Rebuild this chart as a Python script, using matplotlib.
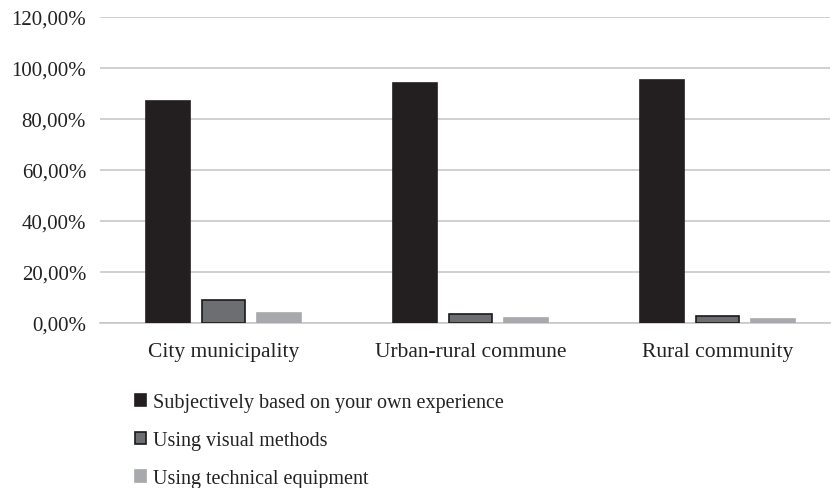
import numpy as np
import matplotlib
matplotlib.use('Agg')
import matplotlib.pyplot as plt
from matplotlib.ticker import FuncFormatter

categories = ['City municipality', 'Urban-rural commune', 'Rural community']
series = ['Subjectively based on your own experience',
          'Using visual methods',
          'Using technical equipment']
subjective = [87.0, 94.0, 95.3]
visual = [9.0, 3.5, 2.7]
technical = [4.0, 2.0, 1.6]

plt.rcParams['font.family'] = ['Liberation Serif', 'DejaVu Serif']

fig = plt.figure(figsize=(8.31, 4.89), dpi=100)
ax = fig.add_axes([100/831, 1-324/489, 730/831, 306/489])

x = np.arange(len(categories))
w = 0.178
step = 0.223
colors = ['#231f20', '#6d6e71', '#a7a9ac']
edges = ['#231f20', '#1a1a1a', '#a7a9ac']
handles = []
for i, (vals, c, e) in enumerate(zip([subjective, visual, technical], colors, edges)):
    b = ax.bar(x + (i-1)*step, vals, w, color=c, edgecolor=e, linewidth=1.2, zorder=3, label=series[i])
    handles.append(b)

ax.set_ylim(0, 120)
ax.set_xlim(-0.5, -0.5 + 730/247)
ax.set_yticks(np.arange(0, 121, 20))
ax.yaxis.set_major_formatter(FuncFormatter(lambda v, p: ('%.2f%%' % v).replace('.', ',')))
ax.grid(axis='y', color='#c8c8c8', linewidth=1.2, zorder=0)
ax.set_xticks(x)
ax.set_xticklabels(categories)
for s in ['top', 'right', 'left']:
    ax.spines[s].set_visible(False)
ax.spines['bottom'].set_color('#c8c8c8')
ax.spines['bottom'].set_linewidth(1.2)
ax.tick_params(axis='both', length=0, labelsize=15, colors='#222222')
ax.tick_params(axis='x', labelsize=15.5)
ax.tick_params(axis='y', pad=10)
ax.tick_params(axis='x', pad=14)

fig.legend(handles=handles, labels=series, loc='upper left',
           bbox_to_anchor=(117/831, 1-376/489), frameon=False, fontsize=14.5,
           handlelength=0.55, handleheight=0.55, handletextpad=0.35, labelspacing=0.95,
           labelcolor='#222222')

fig.savefig('out.png', dpi=100)
